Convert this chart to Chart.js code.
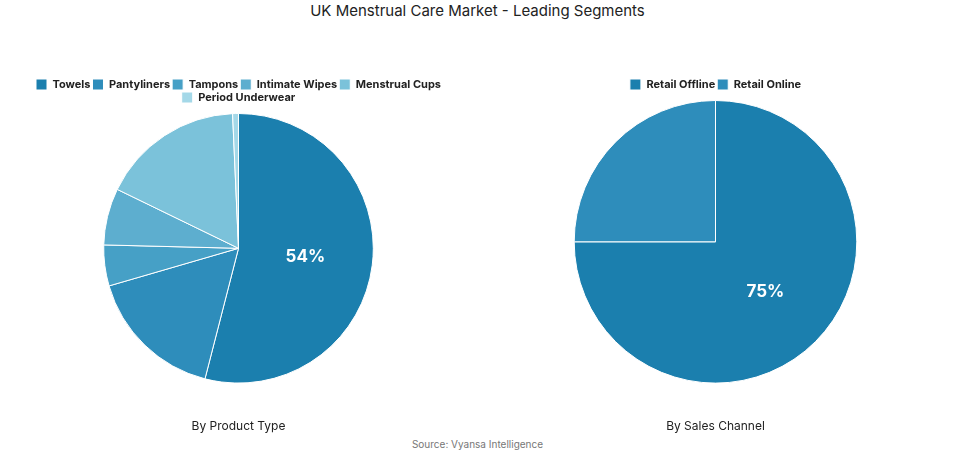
<!DOCTYPE html>
<html><head><meta charset="utf-8">
<script src="https://cdn.jsdelivr.net/npm/chart.js@4/dist/chart.umd.min.js"></script>
<style>
body{margin:0;background:#fff;font-family:Inter,"Open Sans",sans-serif;width:955px;height:454px;position:relative;overflow:hidden}
#title{position:absolute;top:1px;left:0;width:955px;text-align:center;font-size:15px;color:#222}
.box{position:absolute;top:77px;width:477px;height:361px}
#src{position:absolute;top:438px;width:955px;text-align:center;font-size:10px;color:#777}
</style></head><body>
<div id="title">UK Menstrual Care Market - Leading Segments</div>
<div class="box" style="left:0"><canvas id="c1"></canvas></div>
<div class="box" style="left:477px"><canvas id="c2"></canvas></div>
<div id="src">Source: Vyansa Intelligence</div>
<script>
const productLabels = ['Towels','Pantyliners','Tampons','Intimate Wipes','Menstrual Cups','Period Underwear'];
const productValues = [54, 16.5, 4.9, 6.8, 17.1, 0.7];
const productColors = ['#1b7fae','#2e8dbb','#46a0c6','#5daecf','#7bc2da','#a4d8e8'];
const channelLabels = ['Retail Offline','Retail Online'];
const channelValues = [75, 25];
const channelColors = ['#1b7fae','#2e8dbb'];

const bigLabel = {
  id: 'bigLabel',
  afterDatasetsDraw(chart) {
    const ctx = chart.ctx;
    const arcs = chart.getDatasetMeta(0).data;
    const vals = chart.data.datasets[0].data;
    const i = vals.indexOf(Math.max(...vals));
    const p = arcs[i].tooltipPosition();
    ctx.save();
    ctx.fillStyle = '#fff';
    ctx.font = 'bold 17px Inter, sans-serif';
    ctx.textAlign = 'center'; ctx.textBaseline = 'middle';
    ctx.fillText(vals[i] + '%', p.x, p.y);
    ctx.restore();
  }
};

function makePie(id, labels, data, colors, title) {
  new Chart(document.getElementById(id), {
    type: 'pie',
    data: { labels, datasets: [{ data, backgroundColor: colors, borderColor: '#fff', borderWidth: 1 }] },
    options: {
      responsive: true, maintainAspectRatio: false, animation: false,
      layout: { padding: { top: 0, bottom: 4 } },
      plugins: {
        tooltip: { enabled: false },
        legend: { position: 'top', labels: { boxWidth: 11, boxHeight: 11, padding: 2, color: '#222', font: { size: 11, weight: 'bold', family: 'Inter, sans-serif' } } },
        title: { display: true, position: 'bottom', text: title, color: '#222', padding: { top: 36, bottom: 0 }, font: { size: 12, weight: 'normal', family: 'Inter, sans-serif' } }
      }
    },
    plugins: [bigLabel]
  });
}
makePie('c1', productLabels, productValues, productColors, 'By Product Type');
makePie('c2', channelLabels, channelValues, channelColors, 'By Sales Channel');
</script>
</body></html>
